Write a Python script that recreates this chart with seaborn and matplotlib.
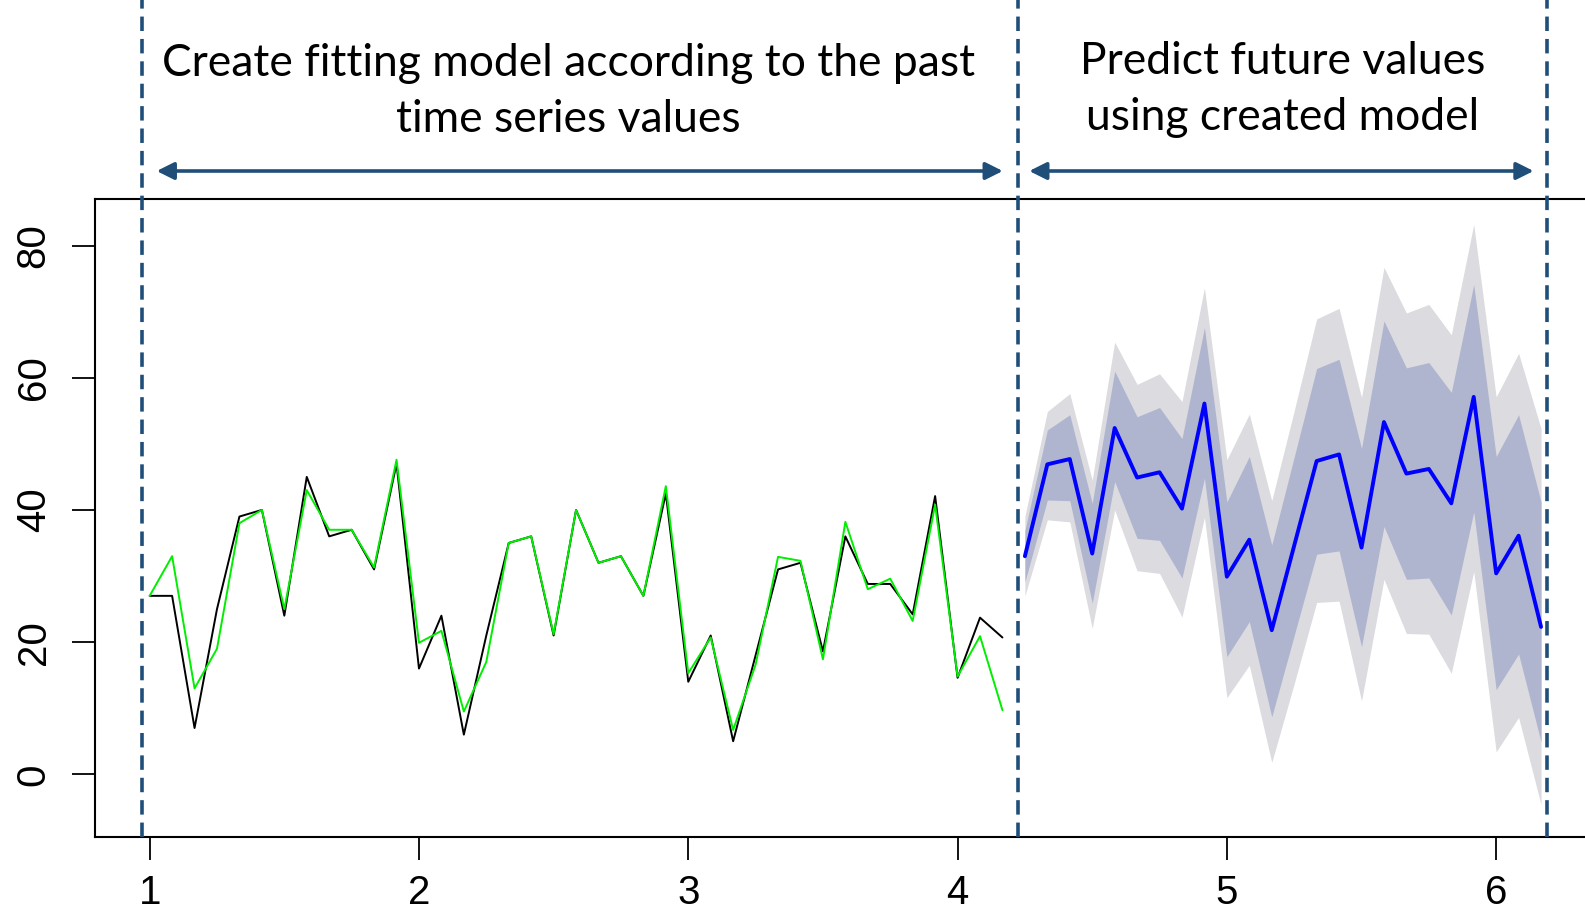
import numpy as np
import pandas as pd
import matplotlib
matplotlib.use("Agg")
import matplotlib.pyplot as plt
import seaborn as sns
from matplotlib.transforms import blended_transform_factory

# ---------------- data ----------------
ts_start = 1.0
ts_freq = 12

observed = [27, 27, 7, 25, 39, 40, 24, 45, 36, 37, 31, 47, 16, 24, 6, 21, 35, 36, 21,
            40, 32, 33, 27, 42.5, 14, 21, 5, 18, 31, 32, 18.6, 36, 28.8, 28.8, 24.2,
            42.1, 14.6, 23.7, 20.7]
fitted = [27, 33, 13, 19, 38, 40, 25, 43, 37, 37, 31.3, 47.6, 19.9, 21.7, 9.5, 17, 35,
          36, 21.2, 40, 32, 33, 27, 43.6, 15.3, 20.7, 6.7, 16.6, 32.9, 32.3, 17.4, 38.2,
          28, 29.6, 23.2, 40.8, 14.8, 20.9, 9.7]

fc_mean = [33.0, 46.9, 47.7, 33.4, 52.4, 44.9, 45.7, 40.2, 56.1, 29.9, 35.5, 21.8,
           34.6, 47.4, 48.4, 34.3, 53.3, 45.5, 46.2, 41.0, 57.1, 30.4, 36.1, 22.3]
lo95 = [27.0, 38.5, 38.2, 22.1, 40.0, 30.8, 30.4, 23.8, 38.9, 11.6, 16.5, 1.8,
        13.7, 26.0, 26.2, 11.1, 29.5, 21.3, 21.2, 15.3, 30.7, 3.4, 8.6, -4.6]
lo80 = [29.1, 41.5, 41.4, 25.9, 44.3, 35.7, 35.4, 29.7, 44.8, 17.8, 23.1, 8.7,
        21.0, 33.3, 33.8, 19.3, 37.5, 29.5, 29.7, 24.1, 39.7, 12.8, 18.2, 4.9]
hi80 = [36.9, 52.1, 54.4, 41.0, 61.0, 54.1, 55.5, 50.8, 67.6, 41.2, 48.1, 34.7,
        48.0, 61.4, 62.8, 49.3, 68.6, 61.5, 62.3, 57.8, 74.1, 48.1, 54.4, 41.2]
hi95 = [39.0, 54.9, 57.6, 44.5, 65.4, 59.0, 60.6, 56.4, 73.6, 47.6, 54.5, 41.4,
        55.0, 68.9, 70.5, 57.0, 76.7, 69.8, 71.1, 66.5, 83.2, 57.1, 63.7, 52.3]

x_ticks = [1, 2, 3, 4, 5, 6]
y_ticks = [0, 20, 40, 60, 80]

left_text = ["Create fitting model according to the past", "time series values"]
right_text = ["Predict future values", "using created model"]

# ---------------- layout / style constants ----------------
W, H = 1585, 919
navy = "#1F4E79"
band95 = "#DBDBE0"
band80 = "#B0B5CF"
sep_x = [0.97, 4.224, 6.19]          # dashed separators (data x)
arrow_spans = [(1.026, 4.168), (4.266, 6.139)]

n_obs = len(observed)
t_obs = ts_start + np.arange(n_obs) / ts_freq
t_fc = ts_start + (n_obs + np.arange(len(fc_mean))) / ts_freq

df_obs = pd.DataFrame({"t": t_obs, "observed": observed, "fitted": fitted})
df_fc = pd.DataFrame({"t": t_fc, "mean": fc_mean, "lo95": lo95, "lo80": lo80,
                      "hi80": hi80, "hi95": hi95})

sns.set_theme(style="white")
plt.rcParams["font.family"] = ["Liberation Sans Narrow", "Liberation Sans", "DejaVu Sans"]
plt.rcParams["xtick.bottom"] = True
plt.rcParams["ytick.left"] = True

fig = plt.figure(figsize=(W / 100, H / 100), dpi=100)
ax_left_px, ax_top_px, ax_bot_px, ax_right_px = 95, 199, 837, 1601
ax = fig.add_axes([ax_left_px / W, 1 - ax_bot_px / H,
                   (ax_right_px - ax_left_px) / W, (ax_bot_px - ax_top_px) / H])

# prediction intervals
ax.fill_between(df_fc["t"], df_fc["lo95"], df_fc["hi95"], color=band95, lw=0, zorder=1)
ax.fill_between(df_fc["t"], df_fc["lo80"], df_fc["hi80"], color=band80, lw=0, zorder=2)

sns.lineplot(data=df_obs, x="t", y="observed", color="black", lw=1.4,
             estimator=None, ax=ax, zorder=3)
sns.lineplot(data=df_obs, x="t", y="fitted", color="#00EE00", lw=1.4,
             estimator=None, ax=ax, zorder=4)
sns.lineplot(data=df_fc, x="t", y="mean", color="#0000FF", lw=2.8,
             estimator=None, ax=ax, zorder=5)

ax.set_xlim(0.797, 0.797 + (ax_right_px - ax_left_px) / 269.3)
ax.set_ylim(-9.49, 87.05)
ax.set_xticks(x_ticks)
ax.set_xticklabels([str(v) for v in x_ticks])
ax.set_yticks(y_ticks)
ax.set_yticklabels([str(v) for v in y_ticks], rotation=90, va="center")
ax.set_xlabel("")
ax.set_ylabel("")
ax.tick_params(axis="both", which="major", bottom=True, left=True, direction="out",
               length=16.5, width=1.3, color="black", labelsize=29, labelcolor="black")
ax.tick_params(axis="x", pad=10)
ax.tick_params(axis="y", pad=14)
ax.grid(False)
for s in ["left", "top", "bottom"]:
    ax.spines[s].set_visible(True)
    ax.spines[s].set_color("black")
    ax.spines[s].set_linewidth(1.5)
ax.spines["right"].set_visible(False)

# dashed separators reaching to the top of the figure
top_frac = ax_bot_px / (ax_bot_px - ax_top_px)
for xs in sep_x:
    ax.axvline(xs, ymin=0, ymax=top_frac, color=navy, lw=2.6,
               linestyle=(0, (4.0, 2.2)), clip_on=False, zorder=6)

# arrows
arrow_y = (ax_bot_px - 171) / (ax_bot_px - ax_top_px)
xtrans = ax.get_xaxis_transform()
for x0, x1 in arrow_spans:
    ax.annotate("", xy=(x1, arrow_y), xytext=(x0, arrow_y), xycoords=xtrans,
                textcoords=xtrans, annotation_clip=False,
                arrowprops=dict(arrowstyle="<|-|>", color=navy, lw=2.6,
                                mutation_scale=26, shrinkA=0, shrinkB=0))

# headings
tr = blended_transform_factory(ax.transData, fig.transFigure)
title_font = ["Lato", "DejaVu Sans"]
texts = []
for line, base_px in zip(left_text, [76, 131.7]):
    texts.append(ax.text(2.556, 1 - base_px / H, line, transform=tr, ha="center",
                         va="baseline", fontsize=30, family=title_font, color="black"))
for line, base_px in zip(right_text, [74, 130]):
    texts.append(ax.text(5.208, 1 - base_px / H, line, transform=tr, ha="center",
                         va="baseline", fontsize=30, family=title_font, color="black"))

fig.canvas.draw()
r = fig.canvas.get_renderer()
w = texts[0].get_window_extent(r).width
fs = 30 * 810 / w
for t in texts:
    t.set_fontsize(fs)

fig.savefig("out.png", dpi=100)
